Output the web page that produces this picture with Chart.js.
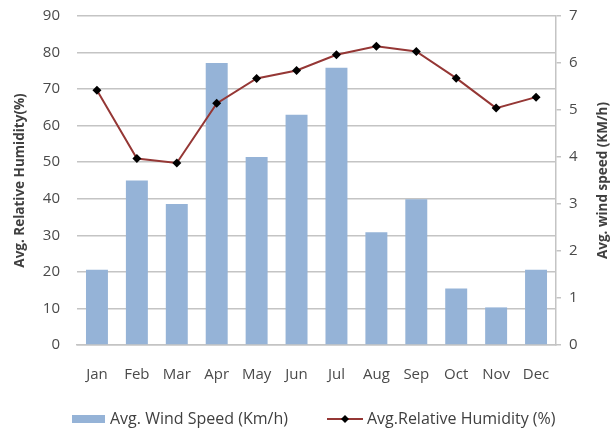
<!DOCTYPE html>
<html>
<head>
<meta charset="utf-8">
<script src="https://cdn.jsdelivr.net/npm/chart.js@4"></script>
<style>
  html, body { margin: 0; padding: 0; background: #fff; }
  #wrap { width: 613px; height: 431px; }
</style>
</head>
<body>
<div id="wrap"><canvas id="chart" width="613" height="431"></canvas></div>
<script>
const months = ['Jan', 'Feb', 'Mar', 'Apr', 'May', 'Jun', 'Jul', 'Aug', 'Sep', 'Oct', 'Nov', 'Dec'];
const windSpeed = [1.6, 3.5, 3.0, 6.0, 4.0, 4.9, 5.9, 2.4, 3.1, 1.2, 0.8, 1.6];
const humidity = [69.7, 51.0, 49.8, 66.1, 72.9, 75.1, 79.4, 81.7, 80.3, 73.0, 64.8, 67.8];

const barColor = '#95b3d7';
const lineColor = '#953735';
const textColor = '#404040';
const tickColor = '#4a4a4a';
const gridColor = '#c4c4c4';
const fontFamily = '"Open Sans", sans-serif';

// axis titles + legend drawn by hand (right title reads bottom-up, legend line has a marker)
const extras = {
    id: 'extras',
    afterDraw(chart) {
        const ctx = chart.ctx;
        ctx.save();
        ctx.fillStyle = textColor;
        ctx.font = 'bold 13.5px ' + fontFamily;
        ctx.textAlign = 'center';
        ctx.textBaseline = 'middle';
        const midY = (chart.chartArea.top + chart.chartArea.bottom) / 2;

        ctx.save();
        ctx.translate(20, midY);
        ctx.rotate(-Math.PI / 2);
        ctx.fillText('Avg. Relative Humidity(%)', 0, 0);
        ctx.restore();

        ctx.save();
        ctx.translate(603, midY);
        ctx.rotate(-Math.PI / 2);
        ctx.fillText('Avg. wind speed (KM/h)', 0, 0);
        ctx.restore();

        // legend
        const ly = 419;
        ctx.font = '16px ' + fontFamily;
        ctx.textAlign = 'left';
        ctx.fillStyle = barColor;
        ctx.fillRect(72, ly - 4, 33, 8);
        ctx.fillStyle = textColor;
        ctx.fillText(chart.data.datasets[0].label, 110, ly);

        ctx.strokeStyle = lineColor;
        ctx.lineWidth = 2;
        ctx.beginPath();
        ctx.moveTo(327, ly);
        ctx.lineTo(363, ly);
        ctx.stroke();
        ctx.fillStyle = '#000';
        ctx.beginPath();
        ctx.moveTo(345, ly - 4);
        ctx.lineTo(349, ly);
        ctx.lineTo(345, ly + 4);
        ctx.lineTo(341, ly);
        ctx.closePath();
        ctx.fill();
        ctx.fillStyle = textColor;
        ctx.fillText(chart.data.datasets[1].label, 367, ly);
        ctx.restore();
    }
};

function fitY(width) {
    return s => {
        s.width = width;
        s.paddingTop = 0;
        s.paddingBottom = 0;
    };
}

new Chart(document.getElementById('chart').getContext('2d'), {
    data: {
        labels: months,
        datasets: [{
            type: 'bar',
            label: 'Avg. Wind Speed (Km/h)',
            data: windSpeed,
            yAxisID: 'yW',
            backgroundColor: barColor,
            barPercentage: 0.55,
            categoryPercentage: 1,
            order: 1
        }, {
            type: 'line',
            label: 'Avg.Relative Humidity (%)',
            data: humidity,
            yAxisID: 'yH',
            borderColor: lineColor,
            borderWidth: 2,
            tension: 0,
            pointStyle: 'rectRot',
            pointRadius: 4.5,
            pointBackgroundColor: '#000',
            pointBorderColor: '#000',
            pointBorderWidth: 0,
            order: 0
        }]
    },
    options: {
        responsive: false,
        animation: false,
        layout: { padding: { top: 16, bottom: 38, left: 0, right: 0 } },
        plugins: {
            legend: { display: false },
            tooltip: { enabled: false }
        },
        scales: {
            x: {
                grid: { display: false },
                border: { display: true, color: gridColor, width: 1.5 },
                ticks: { color: tickColor, padding: 13, font: { family: fontFamily, size: 15 } },
                afterFit: s => { s.height = 48; }
            },
            yH: {
                position: 'left',
                min: 0,
                max: 90,
                ticks: { stepSize: 10, color: tickColor, padding: 17, font: { family: fontFamily, size: 15 } },
                grid: { color: gridColor, lineWidth: 1.5, drawTicks: false },
                border: { display: false },
                afterFit: fitY(77)
            },
            yW: {
                position: 'right',
                min: 0,
                max: 7,
                ticks: { stepSize: 1, color: tickColor, padding: 8, font: { family: fontFamily, size: 15 } },
                grid: { drawOnChartArea: false, drawTicks: true, tickLength: 5, color: gridColor, lineWidth: 1.5 },
                border: { display: true, color: gridColor, width: 1.5 },
                afterFit: fitY(57)
            }
        }
    },
    plugins: [extras]
});
</script>
</body>
</html>
